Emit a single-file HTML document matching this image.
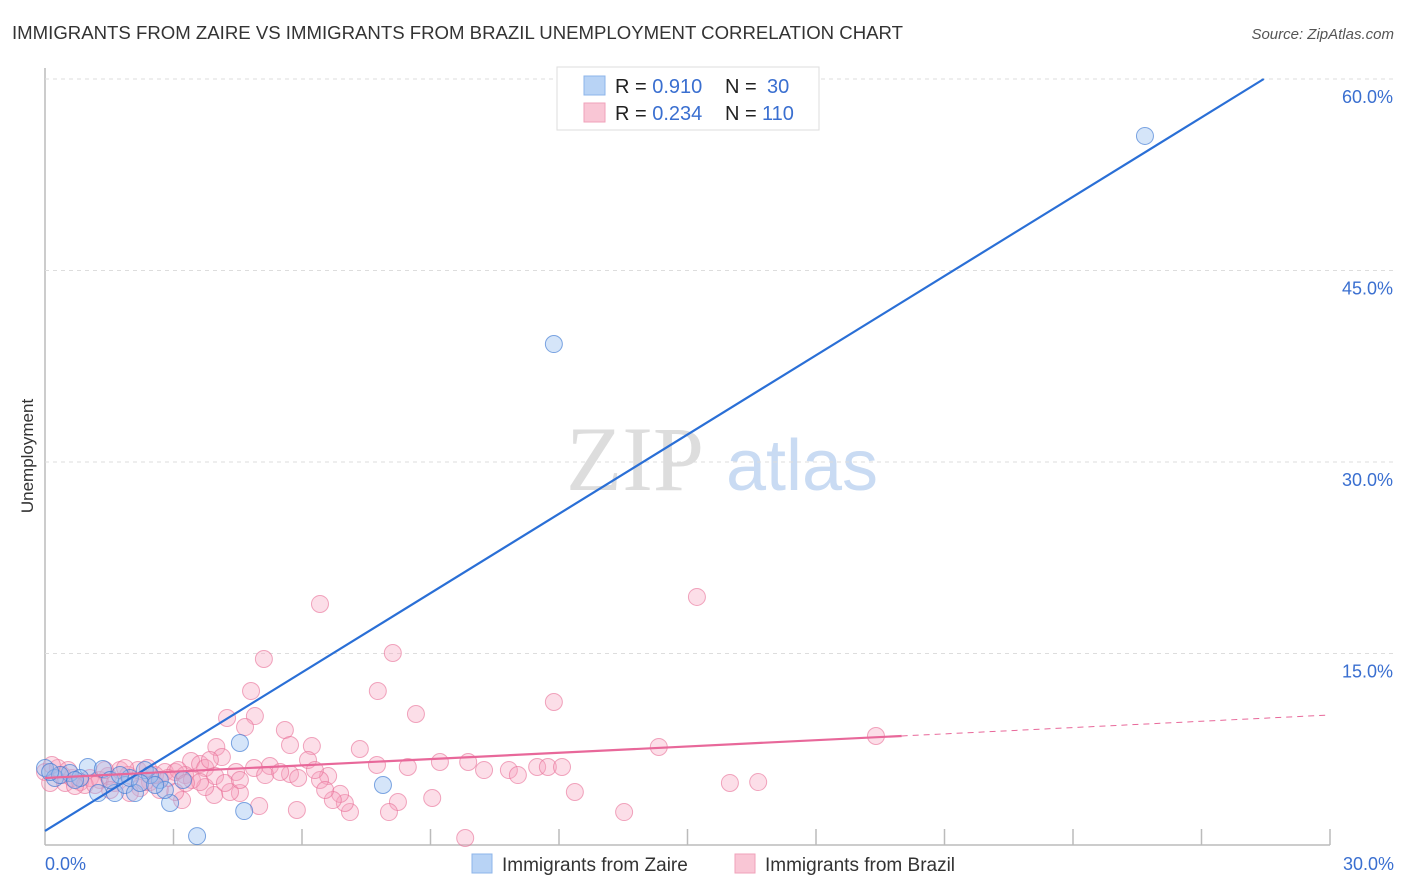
<!DOCTYPE html>
<html><head><meta charset="utf-8"><style>
body{margin:0;background:#fff;font-family:"Liberation Sans",sans-serif;}
svg{display:block}
</style></head><body>
<svg id="chart" width="1406" height="892">
<text x="12" y="39" font-size="18" fill="#333" textLength="891" lengthAdjust="spacingAndGlyphs">IMMIGRANTS FROM ZAIRE VS IMMIGRANTS FROM BRAZIL UNEMPLOYMENT CORRELATION CHART</text>
<text x="1394" y="39" font-size="15" fill="#555" font-style="italic" text-anchor="end">Source: ZipAtlas.com</text>
<text transform="translate(33,456) rotate(-90)" font-size="17" fill="#333" text-anchor="middle">Unemployment</text>
<g><text x="635" y="490" font-size="92" font-family="Liberation Serif,serif" fill="#ddd" text-anchor="middle">ZIP</text><text x="802" y="490" font-size="72" fill="#c9dbf3" text-anchor="middle">atlas</text></g>
<g id="grid"></g><g id="pts"></g><g id="lines"></g>
<g>
<rect x="557" y="67" width="262" height="63" fill="#fff" stroke="#ddd"/>
<rect x="584" y="76" width="21" height="19" fill="#b8d3f5" stroke="#8db4ea"/>
<rect x="584" y="103" width="21" height="19" fill="#f9c6d5" stroke="#f0a2ba"/>
<text x="615" y="93" font-size="20" fill="#222">R = <tspan fill="#3a6fd0">0.910</tspan><tspan x="725">N = </tspan><tspan x="767" fill="#3a6fd0">30</tspan></text>
<text x="615" y="120" font-size="20" fill="#222">R = <tspan fill="#3a6fd0">0.234</tspan><tspan x="725">N = </tspan><tspan x="762" fill="#3a6fd0">110</tspan></text>
</g>
<g>
<rect x="472" y="854" width="20" height="19" fill="#b8d3f5" stroke="#8db4ea"/>
<text x="502" y="871" font-size="19" fill="#333">Immigrants from Zaire</text>
<rect x="735" y="854" width="20" height="19" fill="#f9c6d5" stroke="#f0a2ba"/>
<text x="765" y="871" font-size="19" fill="#333">Immigrants from Brazil</text>
</g>
</svg>
<script>
const yTicks=[15,30,45,60];
const yTickLabels=["15.0%","30.0%","45.0%","60.0%"];
const xTickLabels=["0.0%","30.0%"];
const zaireX=[0,0.23,0.58,1.0,1.35,1.63,1.24,1.87,2.10,2.33,2.68,2.92,3.22,3.55,4.55,4.65,7.89,11.88,25.68,0.35,0.82,1.52,2.45,2.80,1.98,0.12,0.70,1.75,2.22,2.57];
const zaireY=[6.03,5.25,5.64,6.11,5.95,4.07,4.07,4.70,4.07,5.87,5.09,3.29,5.09,0.70,7.99,2.66,4.70,39.24,55.54,5.48,5.25,5.09,5.48,4.31,5.25,5.72,5.09,5.48,4.86,4.70];
const brazilX=[6.42,15.22,5.11,8.12,4.81,7.77,11.88,8.66,4.25,4.90,4.67,5.60,5.72,6.23,4.00,4.13,7.35,14.33,19.40,3.41,3.62,6.14,5.25,5.72,4.46,4.88,6.61,7.75,8.47,9.22,9.88,10.25,10.83,11.04,11.49,11.74,12.07,12.37,15.99,16.65,13.52,9.81,9.04,8.24,8.03,7.12,7.00,6.89,6.72,5.88,5.00,4.55,4.32,3.95,3.74,3.20,3.04,2.68,2.45,2.22,1.98,0,0.12,0.30,0.47,0.63,0.82,1.05,1.28,1.47,1.63,1.75,1.94,2.17,2.33,2.57,2.80,3.04,3.27,3.43,3.74,3.97,5.14,5.49,5.91,6.42,6.54,3.62,3.11,0.40,0.93,1.17,1.52,2.87,4.20,4.55,0.16,0.54,0.70,1.40,1.87,2.40,3.29,3.85,6.30];
const brazilY=[18.88,19.43,14.57,15.04,12.06,12.06,11.20,10.26,9.95,10.10,9.24,9.01,7.83,7.75,7.68,6.89,7.52,7.68,8.54,6.58,6.34,6.66,6.19,5.56,5.72,6.03,5.40,6.27,6.11,6.50,6.50,5.87,5.87,5.48,6.11,6.11,6.11,4.15,4.86,4.93,2.58,0.55,3.68,3.37,2.58,2.58,3.29,4.00,3.52,2.74,3.05,4.07,4.15,3.92,4.54,3.52,4.15,4.31,4.93,4.46,4.07,5.72,4.86,6.03,4.86,5.25,4.93,5.25,5.09,5.40,4.86,5.87,5.48,5.87,4.93,5.48,5.72,5.72,5.48,5.09,6.03,5.40,5.48,5.72,5.25,5.09,4.31,4.93,5.87,5.48,4.70,4.70,4.31,5.25,4.86,5.09,6.27,5.87,4.62,5.87,6.03,6.03,4.86,6.66,5.87];
const zaireFit=[1.1,2.07];
const brazilFit=[5.25,0.1645];
const X0=45,X1=1330,Y0=845,PXY=191.5/15;
const sx=v=>X0+v/30*(X1-X0), sy=v=>Y0-v*PXY;
const NS="http://www.w3.org/2000/svg";
function mk(p,t,a){const e=document.createElementNS(NS,t);for(const k in a)e.setAttribute(k,a[k]);p.appendChild(e);return e;}
const grid=document.getElementById('grid');
let ax=mk(grid,'line',{x1:X0,y1:68,x2:X0,y2:Y0,stroke:'#bbb','stroke-width':1.5});

let bx=mk(grid,'line',{x1:X0,y1:Y0,x2:X1,y2:Y0,stroke:'#bbb','stroke-width':1.5});

yTicks.forEach((v,i)=>{
 const g=mk(grid,'line',{x1:X0,y1:sy(v),x2:1394,y2:sy(v),stroke:'#ddd','stroke-dasharray':'4,4'});
 
 const t=mk(grid,'text',{x:1393,y:sy(v)+24,'font-size':18,fill:'#3a6fd0','text-anchor':'end'});
 t.textContent=yTickLabels[i];
 
});
for(let i=1;i<=10;i++){const x=X0+i*(X1-X0)/10;const t=mk(grid,'line',{x1:x,y1:Y0-16,x2:x,y2:Y0,stroke:'#bbb','stroke-width':1.5});
 }
[[0,'start',45],[30,'end',1394]].forEach((d,i)=>{const t=mk(grid,'text',{x:d[2],y:870,'font-size':18,fill:'#3a6fd0','text-anchor':d[1]});
 t.textContent=xTickLabels[i];});
const pts=document.getElementById('pts');
brazilX.forEach((x,i)=>{const c=mk(pts,'circle',{cx:sx(x),cy:sy(brazilY[i]),r:8.5,fill:'rgba(246,160,188,0.35)',stroke:'rgba(232,110,150,0.6)','stroke-width':1});
 });
zaireX.forEach((x,i)=>{const c=mk(pts,'circle',{cx:sx(x),cy:sy(zaireY[i]),r:8.5,fill:'rgba(150,190,240,0.4)',stroke:'rgba(60,120,210,0.65)','stroke-width':1});
 });
const L=document.getElementById('lines');
const zx2=(60-zaireFit[0])/zaireFit[1];
let l1=mk(L,'line',{x1:sx(0),y1:sy(zaireFit[0]),x2:sx(zx2),y2:sy(60),stroke:'#2a6fd6','stroke-width':2.2});

let l2=mk(L,'line',{x1:sx(0),y1:sy(brazilFit[0]),x2:sx(20),y2:sy(brazilFit[0]+20*brazilFit[1]),stroke:'#e8689a','stroke-width':2.2});

let l3=mk(L,'line',{x1:sx(20),y1:sy(brazilFit[0]+20*brazilFit[1]),x2:sx(30),y2:sy(brazilFit[0]+30*brazilFit[1]),stroke:'#e8689a','stroke-width':1,'stroke-dasharray':'6,5'});

</script>
</body></html>
